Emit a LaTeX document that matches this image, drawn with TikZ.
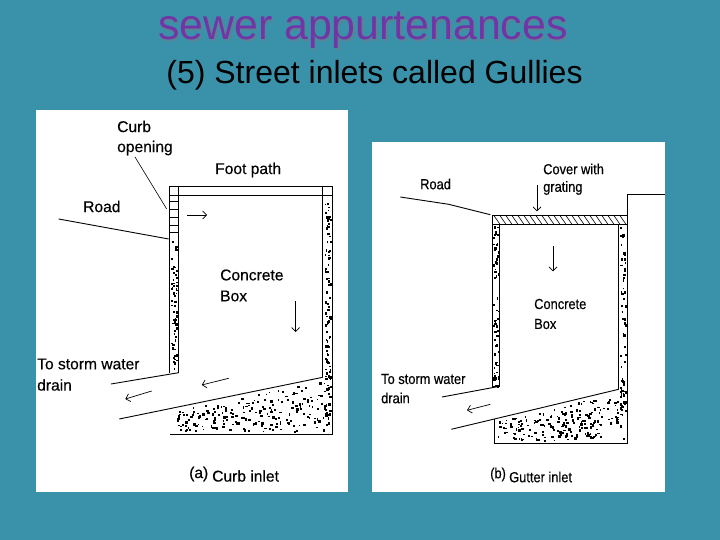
\documentclass[tikz,border=0pt]{standalone}
\usepackage{fontspec}
\setmainfont{Liberation Sans}
\newfontfamily\labelfont[FakeBold=0.35]{Liberation Sans}
\newfontfamily\narrowfont[FakeStretch=0.88,FakeBold=0.3]{Liberation Sans}
\usetikzlibrary{arrows.meta}
\definecolor{slidebg}{HTML}{3A92AA}
\definecolor{titlepurple}{HTML}{7135A6}
\definecolor{titleshadow}{HTML}{5C8296}
\tikzset{
  panel/.style={fill=white,draw=none},
  wall/.style={line width=0.9pt,black},
  thin leader/.style={line width=0.6pt,black},
  flow/.style={line width=0.7pt,black,-{Straight Barb[length=4pt,width=8pt]}},
  lbla/.style={anchor=west,inner sep=0pt,font=\labelfont\fontsize{15.6}{18}\selectfont,text=black},
  lblb/.style={anchor=west,inner sep=0pt,font=\narrowfont\fontsize{14.6}{17}\selectfont,text=black},
}
% stipple: {xmin}{xmax}{ymin}{ymax}{count}
\newcommand{\wallspeck}[5]{%
  \foreach \i in {1,...,#5}{%
    \pgfmathsetmacro{\sx}{#1+rnd*(#2-#1)}%
    \pgfmathsetmacro{\sy}{#3+rnd*(#4-#3)}%
    \pgfmathsetmacro{\sw}{1.2+rnd*1.4}%
    \pgfmathsetmacro{\sh}{1.2+rnd*1.8}%
    \fill[black] (\sx,\sy) rectangle ++(\sw,\sh);%
  }}
% floor stipple below a sloped line: {xmin}{xmax}{x0}{y0}{slope}{ybottom}{count}
\newcommand{\floorspeck}[7]{%
  \foreach \i in {1,...,#7}{%
    \pgfmathsetmacro{\sx}{#1+rnd*(#2-#1)}%
    \pgfmathsetmacro{\st}{#4+#5*(\sx-#3)+3}%
    \pgfmathsetmacro{\sy}{\st+rnd*(#6-\st)}%
    \pgfmathsetmacro{\sw}{1.2+rnd*1.6}%
    \pgfmathsetmacro{\sh}{1.2+rnd*1.6}%
    \fill[black] (\sx,\sy) rectangle ++(\sw,\sh);%
  }}
\begin{document}
\begin{tikzpicture}[x=1pt,y=-1pt]
\useasboundingbox (0,0) rectangle (720,540);
\fill[slidebg] (0,0) rectangle (720,540);
\pgfmathsetseed{4217}
% Titles
\node[anchor=center,inner sep=0pt,font=\fontsize{42.8}{46}\selectfont,text=titleshadow] at (364.5,32) {sewer appurtenances};
\node (title) [anchor=center,inner sep=0pt,font=\fontsize{42.8}{46}\selectfont,text=titlepurple] at (363,30.5) {sewer appurtenances};
\node (subtitle) [anchor=center,inner sep=0pt,font=\fontsize{32}{36}\selectfont,text=black] at (374.5,75) {(5) Street inlets called Gullies};
% Panels
\fill[panel] (36,110) rectangle (348,492);
\fill[panel] (372,142) rectangle (665,492);

% ---------- Panel (a) ----------
\draw[wall] (169,186) rectangle (332,195);
\draw[wall] (178.7,186) -- (178.7,372.7);
\draw[wall] (322.7,186) -- (322.7,377.3);
\draw[wall] (169,186) -- (169,372.7);
\draw[wall] (332,186) -- (332,434.3) -- (170.3,434.3);
\foreach \yy in {201.7,209,217.7,225}{\draw[thin leader] (169,\yy) -- (178.7,\yy);}
\draw[line width=1.4pt] (169,232.7) -- (178.7,232.7);
\draw[wall] (111,384) -- (178.7,372.7);
\draw[wall] (119.3,419) -- (322.7,377.3);
\wallspeck{170.5}{176.5}{238}{371}{60}
\wallspeck{324.5}{330}{197}{378}{75}
\wallspeck{324}{330}{378}{415}{20}
\floorspeck{176}{330}{119.3}{419}{-0.205}{431}{210}

\coordinate (aLeadEnd) at (166.7,209);
\coordinate (aRoadL) at (58.7,219);
\coordinate (aRoadR) at (168.7,239);
\coordinate (aA1s) at (187,215);   \coordinate (aA1e) at (207,215);
\coordinate (aA2s) at (295.7,301); \coordinate (aA2e) at (295.7,332);
\coordinate (aA3s) at (228.7,378.3); \coordinate (aA3e) at (201.7,385);
\coordinate (aA4s) at (151.7,391); \coordinate (aA4e) at (125.3,399);
\draw[thin leader] (135,157) -- (aLeadEnd);
\draw[wall] (aRoadL) -- (aRoadR);
\draw[flow] (aA1s) -- (aA1e);
\draw[flow] (aA2s) -- (aA2e);
\draw[flow] (aA3s) -- (aA3e);
\draw[flow] (aA4s) -- (aA4e);

\node (aCurb) [lbla] at (117,126.5) {Curb};
\node (aOpen) [lbla] at (117,148) {opening};
\node (aFoot) [lbla] at (215,170) {Foot path};
\node (aRoad) [lbla] at (83,206.5) {Road};
\node (aConc) [lbla] at (220,275) {Concrete};
\node (aBox)  [lbla] at (220,296) {Box};
\node (aTo)   [lbla] at (37,364) {To storm water};
\node (aDr)   [lbla] at (37,385) {drain};
\node (aTag)  [lbla] at (189,474) {(a)};
\node (aCap)  [lbla] at (212,476) {Curb inlet};

% ---------- Panel (b) ----------
\foreach \hx in {494,500,...,620}{\draw[thin leader] (\hx,215.7) -- ++(6,8.6);}
\draw[wall] (492,215.7) rectangle (627,224.3);
\draw[wall] (492,224.3) -- (492,386.3) -- (499.7,386.3) -- (499.7,224.3);
\draw[wall] (618.7,224.3) -- (618.7,389.3);
\draw[wall] (627,215.7) -- (627,443) -- (494.7,443) -- (494.7,418.7);
\draw[wall] (627,215.7) -- (627,194.3) -- (665,194.3);
\draw[wall] (442,397) -- (499.7,386.3);
\draw[wall] (451.3,429.3) -- (618.7,389.3);
\wallspeck{493}{498}{226}{385}{65}
\wallspeck{620}{625}{226}{390}{50}
\wallspeck{619.5}{625}{390}{420}{16}
\floorspeck{497}{625}{451.3}{429.3}{-0.239}{440}{190}

\coordinate (bRd1) at (400.3,197);
\coordinate (bRd2) at (448.7,204.3);
\coordinate (bRd3) at (490.3,214.7);
\coordinate (bA1s) at (537,185.3); \coordinate (bA1e) at (537,211.3);
\coordinate (bA2s) at (553,246);   \coordinate (bA2e) at (553,271.3);
\coordinate (bA3s) at (490.3,404.3); \coordinate (bA3e) at (467,410.3);
\draw[wall] (bRd1) -- (bRd2) -- (bRd3);
\draw[flow] (bA1s) -- (bA1e);
\draw[flow] (bA2s) -- (bA2e);
\draw[flow] (bA3s) -- (bA3e);

\node (bRoad) [lblb] at (420,184) {Road};
\node (bCov)  [lblb] at (543,169) {Cover with};
\node (bGrat) [lblb] at (543,188) {grating};
\node (bConc) [lblb] at (534,304) {Concrete};
\node (bBox)  [lblb] at (534,324) {Box};
\node (bTo)   [lblb] at (381,379) {To storm water};
\node (bDr)   [lblb] at (381,398) {drain};
\node (bTag)  [lblb] at (490,474.5) {(b)};
\node (bCap)  [lblb] at (509,477) {Gutter inlet};
\end{tikzpicture}
\end{document}
